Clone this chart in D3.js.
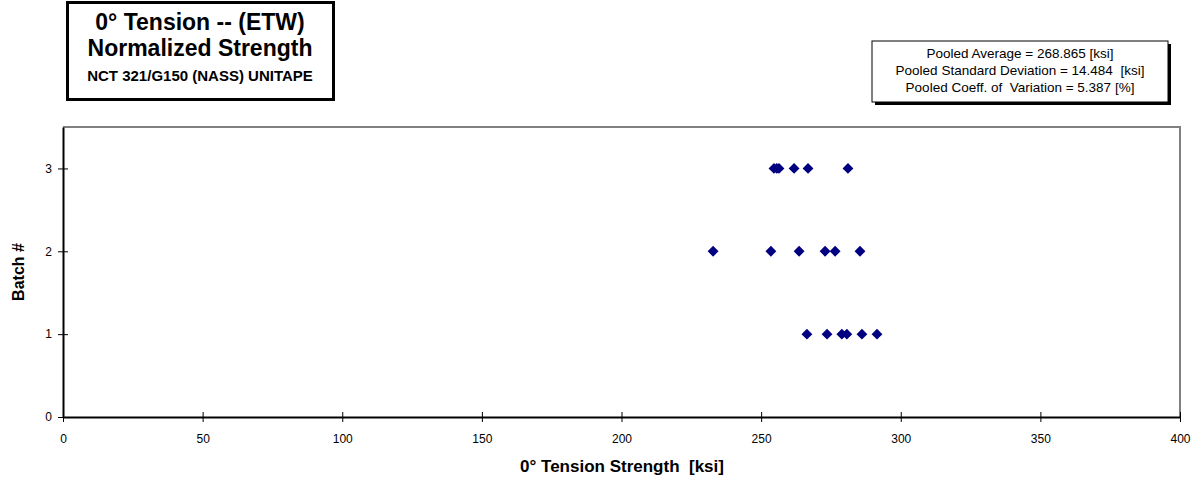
<!DOCTYPE html>
<html>
<head>
<meta charset="utf-8">
<script src="https://cdn.jsdelivr.net/npm/d3@7"></script>
<style>
  body { margin: 0; background: #fff; }
  svg { font-family: "Liberation Sans", Arial, sans-serif; }
  text { white-space: pre; }
</style>
</head>
<body>
<div id="wrapper"></div>
<script>
// values
const batch1 = [266.4, 273.6, 278.9, 280.7, 286.1, 291.5];
const batch2 = [232.8, 253.5, 263.6, 272.9, 276.5, 285.4];
const batch3 = [254.6, 255.6, 256.4, 261.8, 266.8, 281.1];
const batches = [1, 2, 3];
const xTicks = [0, 50, 100, 150, 200, 250, 300, 350, 400];
const yTicks = [0, 1, 2, 3];
const titleLines = ["0° Tension -- (ETW)", "Normalized Strength", "NCT 321/G150 (NASS) UNITAPE"];
const statLines = [
    "Pooled Average = 268.865 [ksi]",
    "Pooled Standard Deviation = 14.484  [ksi]",
    "Pooled Coeff. of  Variation = 5.387 [%]"
];

function buildPlot() {
    const points = [];
    [batch1, batch2, batch3].forEach((vals, i) => {
        vals.forEach(v => points.push({ x: v, batch: batches[i] }));
    });

    const dimension = {
        width: 1202,
        height: 485,
        margin: { top: 127, left: 63, bottom: 68, right: 22 }
    };
    dimension.boundedWidth = dimension.width - dimension.margin.left - dimension.margin.right;
    dimension.boundedHeight = dimension.height - dimension.margin.top - dimension.margin.bottom;

    const svg = d3.select("#wrapper").append("svg")
        .attr("width", dimension.width)
        .attr("height", dimension.height);

    const bounded = svg.append("g")
        .attr("transform", `translate(${dimension.margin.left},${dimension.margin.top})`);

    const xScaler = d3.scaleLinear().domain([0, 400]).range([0, dimension.boundedWidth]);
    const yScaler = d3.scaleLinear().domain([0, 3.5]).range([dimension.boundedHeight, 0]);

    // plot frame (top/right in grey)
    bounded.append("path")
        .attr("d", `M0,0H${dimension.boundedWidth}V${dimension.boundedHeight}`)
        .attr("fill", "none")
        .attr("stroke", "#808080")
        .attr("stroke-width", 2);

    const xAxis = d3.axisBottom(xScaler).tickValues(xTicks).tickFormat(d3.format("d"))
        .tickSizeInner(5).tickSizeOuter(0).tickPadding(12);
    const gx = bounded.append("g")
        .attr("transform", `translate(0,${dimension.boundedHeight})`)
        .call(xAxis);
    gx.select(".domain").attr("stroke", "#000").attr("stroke-width", 2);
    gx.selectAll(".tick line").attr("y1", -5);
    gx.selectAll(".tick text").style("font-size", "12px").attr("fill", "#000");

    const yAxis = d3.axisLeft(yScaler).tickValues(yTicks).tickFormat(d3.format("d"))
        .tickSizeInner(5).tickSizeOuter(0).tickPadding(6);
    const gy = bounded.append("g").call(yAxis);
    gy.select(".domain").attr("stroke", "#000").attr("stroke-width", 2);
    gy.selectAll(".tick line").attr("x1", 5);
    gy.selectAll(".tick text").style("font-size", "12px").attr("fill", "#000");

    // data points
    const diamond = d3.symbol().type(d3.symbolDiamond2).size(75);
    bounded.selectAll(".pt")
        .data(points)
        .join("path")
        .attr("class", "pt")
        .attr("d", diamond)
        .attr("transform", d => `translate(${xScaler(d.x)},${yScaler(d.batch)})`)
        .attr("fill", "#000080");

    // axis titles
    svg.append("text")
        .attr("x", 622)
        .attr("y", 472)
        .attr("text-anchor", "middle")
        .style("font-size", "17px")
        .style("font-weight", "bold")
        .text("0° Tension Strength  [ksi]");

    svg.append("text")
        .attr("transform", `translate(24,${dimension.margin.top + dimension.boundedHeight / 2})rotate(-90)`)
        .attr("text-anchor", "middle")
        .style("font-size", "16px")
        .style("font-weight", "bold")
        .text("Batch #");

    // title box
    const tb = svg.append("g");
    tb.append("rect")
        .attr("x", 67.5).attr("y", 2.5).attr("width", 266).attr("height", 97)
        .attr("fill", "#fff").attr("stroke", "#000").attr("stroke-width", 3);
    const titleY = [30, 56, 81];
    const titleSize = [23, 23, 15];
    titleLines.forEach((t, i) => {
        tb.append("text")
            .attr("x", 200).attr("y", titleY[i])
            .attr("text-anchor", "middle")
            .style("font-size", titleSize[i] + "px")
            .style("font-weight", "bold")
            .text(t);
    });

    // statistics box
    const sb = svg.append("g");
    sb.append("rect")
        .attr("x", 875).attr("y", 44).attr("width", 296).attr("height", 61)
        .attr("fill", "#000");
    sb.append("rect")
        .attr("x", 872).attr("y", 41).attr("width", 296).attr("height", 61)
        .attr("fill", "#fff").attr("stroke", "#000").attr("stroke-width", 1);
    statLines.forEach((t, i) => {
        sb.append("text")
            .attr("x", 1020).attr("y", 58 + i * 17)
            .attr("text-anchor", "middle")
            .style("font-size", "13.5px")
            .text(t);
    });
}

buildPlot();
</script>
</body>
</html>
